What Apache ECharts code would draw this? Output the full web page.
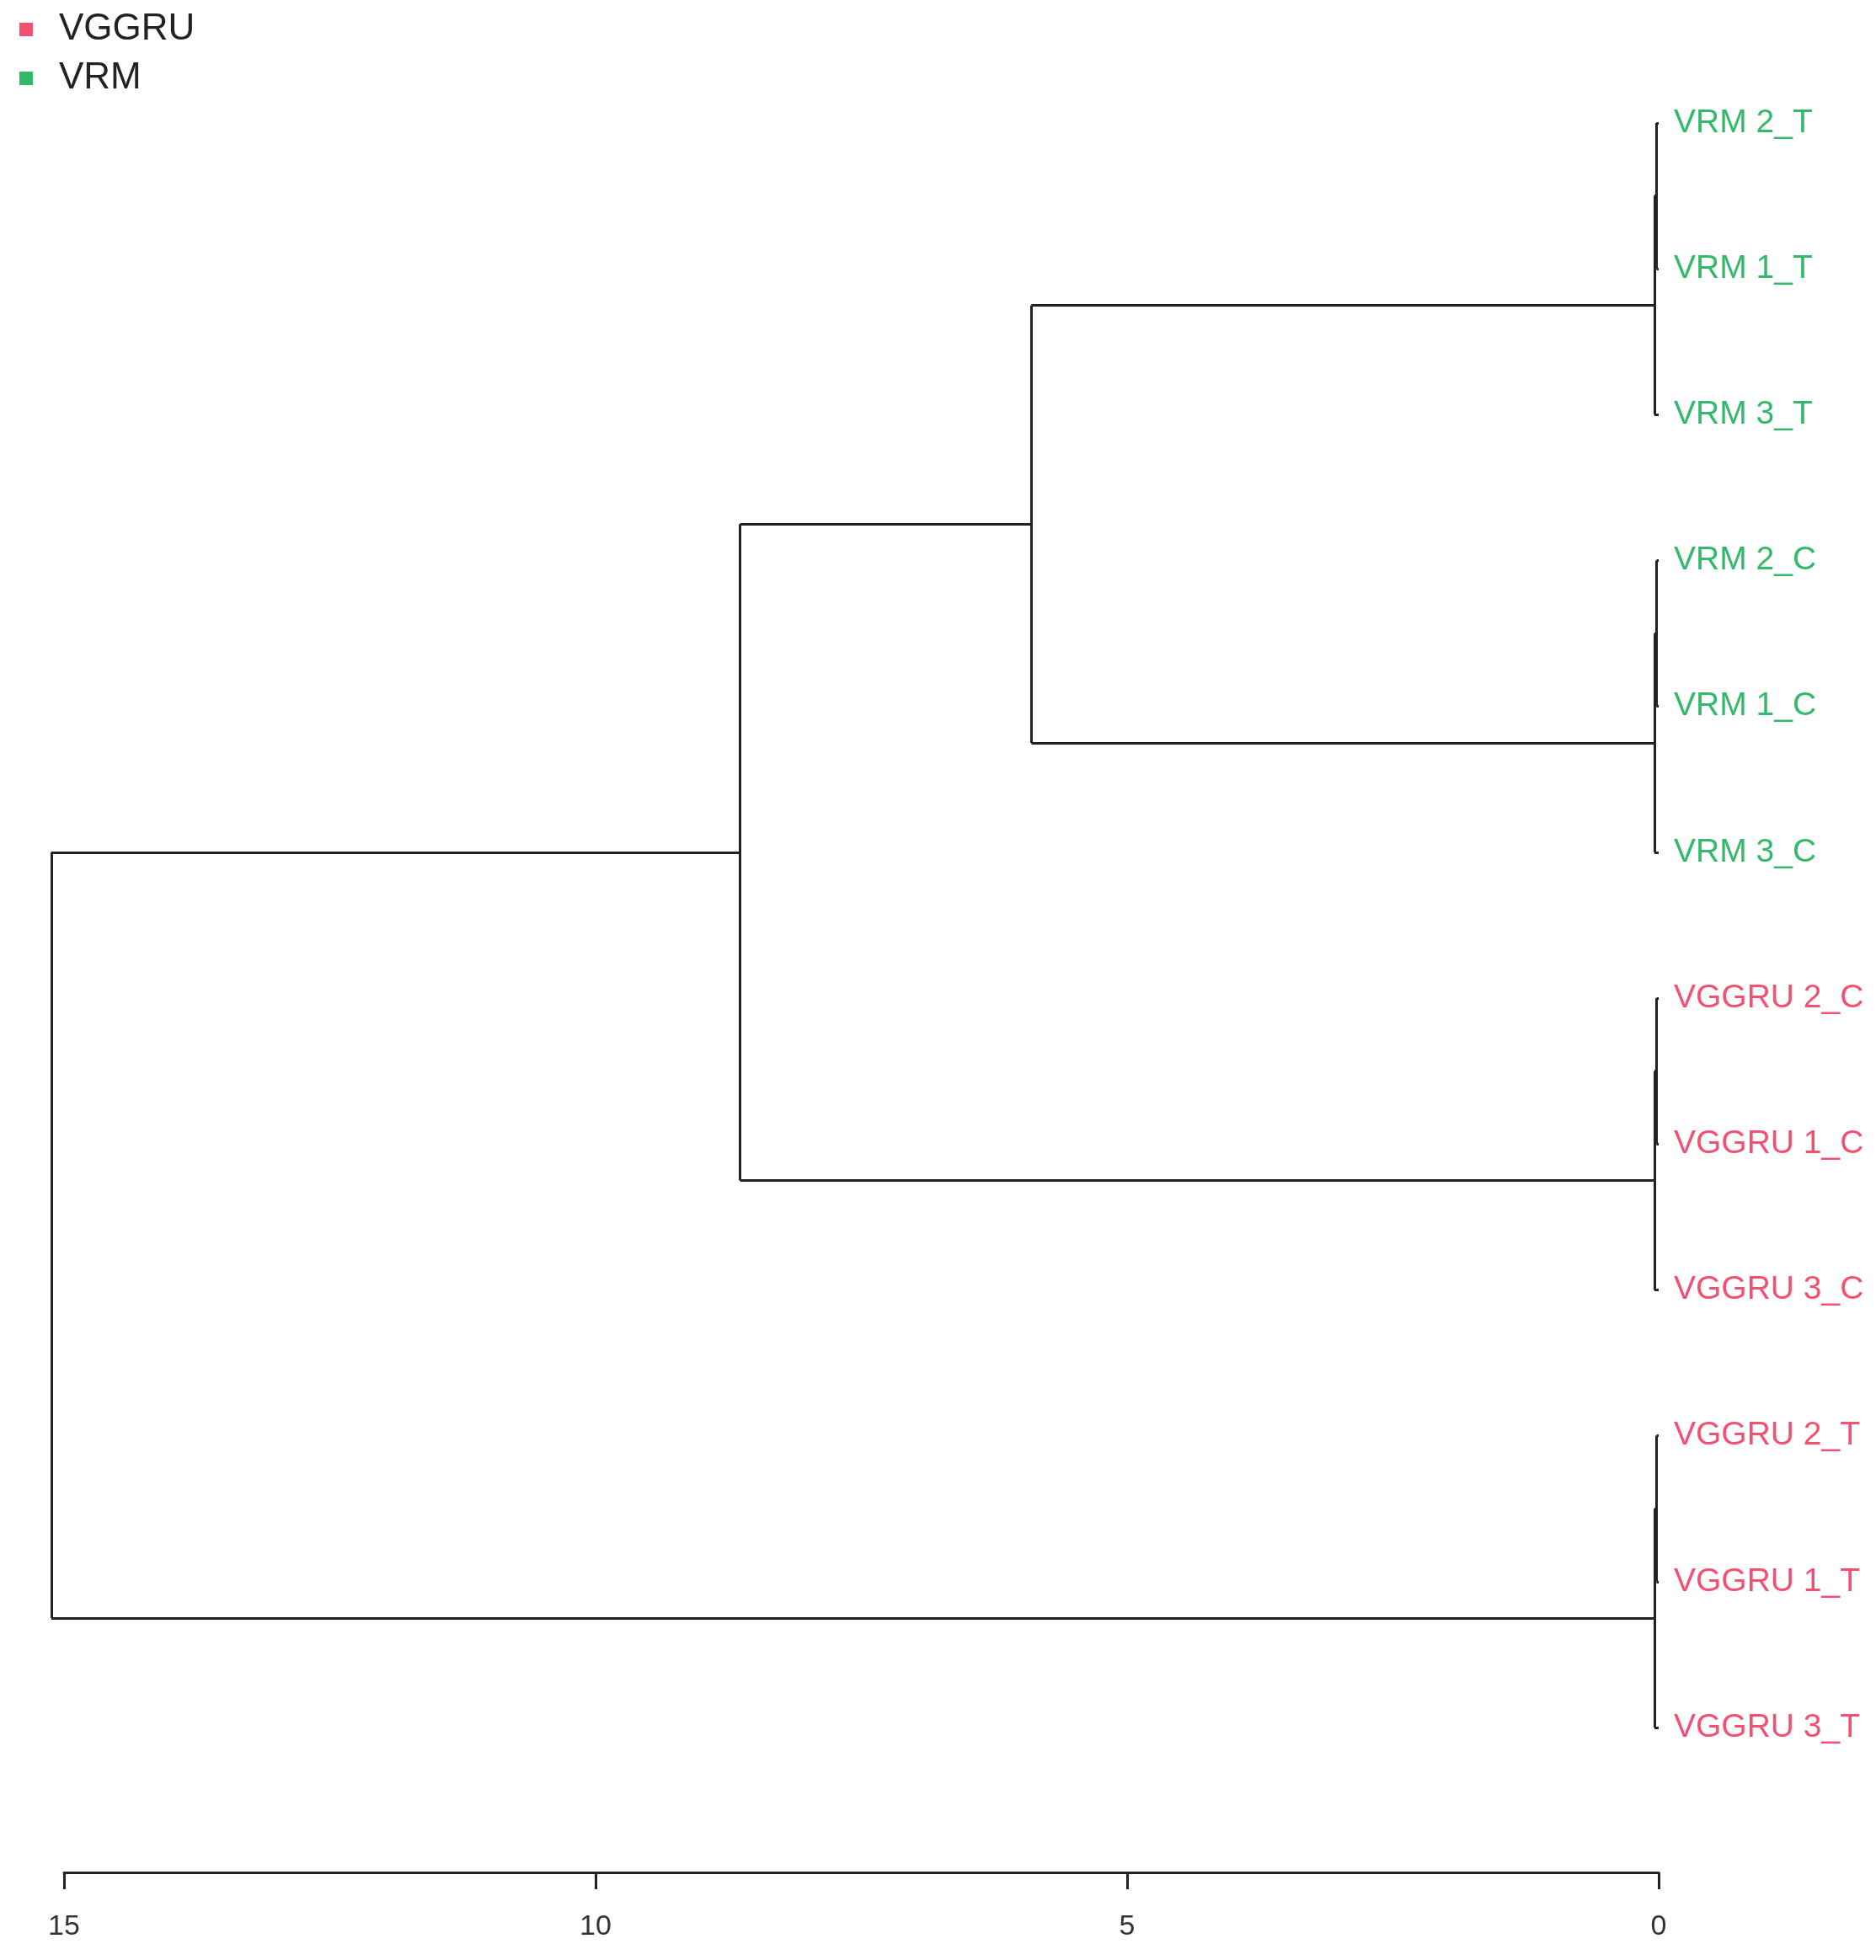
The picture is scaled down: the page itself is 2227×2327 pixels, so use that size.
<!DOCTYPE html>
<html>
<head>
<meta charset="utf-8">
<script src="https://cdn.jsdelivr.net/npm/echarts@6/dist/echarts.min.js"></script>
<style>html,body{margin:0;padding:0;background:#fff}#mychart{width:2227px;height:2327px}</style>
</head>
<body>
<div id="mychart"></div>
<script>
// leaves top to bottom
var leafLabels = ['VRM 2_T', 'VRM 1_T', 'VRM 3_T', 'VRM 2_C', 'VRM 1_C', 'VRM 3_C',
    'VGGRU 2_C', 'VGGRU 1_C', 'VGGRU 3_C', 'VGGRU 2_T', 'VGGRU 1_T', 'VGGRU 3_T']
var leafGroup = ['VRM', 'VRM', 'VRM', 'VRM', 'VRM', 'VRM',
    'VGGRU', 'VGGRU', 'VGGRU', 'VGGRU', 'VGGRU', 'VGGRU']
// merges: negative = leaf index (1-based), positive = earlier merge row (1-based)
var mergeA = [-1, 1, -4, 3, -7, 5, 2, 7, -10, 9, 8]
var mergeB = [-2, -3, -5, -6, -8, -9, 4, 6, -11, -12, 10]
var mergeH = [0.02, 0.04, 0.02, 0.04, 0.02, 0.04, 5.9, 8.64, 0.02, 0.04, 15.12]

var groupColors = { 'VGGRU': '#f0244f', 'VRM': '#00a843' }

// build segments
var nodeY = [], nodeH = [], segs = []
function pos(ref) {
    if (ref < 0) return [0, -ref]
    return [nodeH[ref - 1], nodeY[ref - 1]]
}
for (var i = 0; i < mergeH.length; i++) {
    var a = pos(mergeA[i]), b = pos(mergeB[i]), h = mergeH[i]
    segs.push({ coords: [[a[0], a[1]], [h, a[1]]] })
    segs.push({ coords: [[b[0], b[1]], [h, b[1]]] })
    segs.push({ coords: [[h, a[1]], [h, b[1]]] })
    nodeH.push(h)
    nodeY.push((a[1] + b[1]) / 2)
}

function leafData(g) {
    var d = []
    for (var i = 0; i < leafLabels.length; i++) {
        if (leafGroup[i] == g) d.push({ value: [0, i + 1], name: leafLabels[i] })
    }
    return d
}
function leafSeries(g) {
    return {
        name: g, type: 'scatter', data: leafData(g), symbolSize: 0,
        itemStyle: { color: groupColors[g] },
        label: {
            show: true, position: 'right', distance: 18, formatter: '{b}',
            color: groupColors[g], fontSize: 39, fontFamily: 'Liberation Sans'
        }
    }
}

var myChart = echarts.init(document.getElementById('mychart'))
var option = {
    animation: false,
    backgroundColor: '#fff',
    legend: {
        left: 18, top: 8, orient: 'vertical', icon: 'rect', itemWidth: 16, itemHeight: 16,
        itemGap: 14, data: ['VGGRU', 'VRM'],
        textStyle: { fontSize: 44, color: '#222', fontFamily: 'Liberation Sans', padding: [0, 0, 0, 26] }
    },
    grid: { left: 76, width: 1893, top: 146, height: 1905 },
    xAxis: {
        type: 'value', min: 0, max: 15, interval: 5, inverse: true, offset: 172,
        splitLine: { show: false },
        axisLine: { show: true, lineStyle: { color: '#222', width: 3 } },
        axisTick: { show: true, length: 20, lineStyle: { color: '#222', width: 3 } },
        axisLabel: { fontSize: 34, color: '#333', margin: 48, fontFamily: 'Liberation Sans' }
    },
    yAxis: { type: 'value', min: 1, max: 12, inverse: true, show: false },
    series: [
        {
            type: 'lines', coordinateSystem: 'cartesian2d', data: segs, silent: true, clip: false,
            lineStyle: { color: '#222', width: 3, opacity: 1 }
        },
        leafSeries('VGGRU'),
        leafSeries('VRM')
    ]
}
myChart.setOption(option)
</script>
</body>
</html>
